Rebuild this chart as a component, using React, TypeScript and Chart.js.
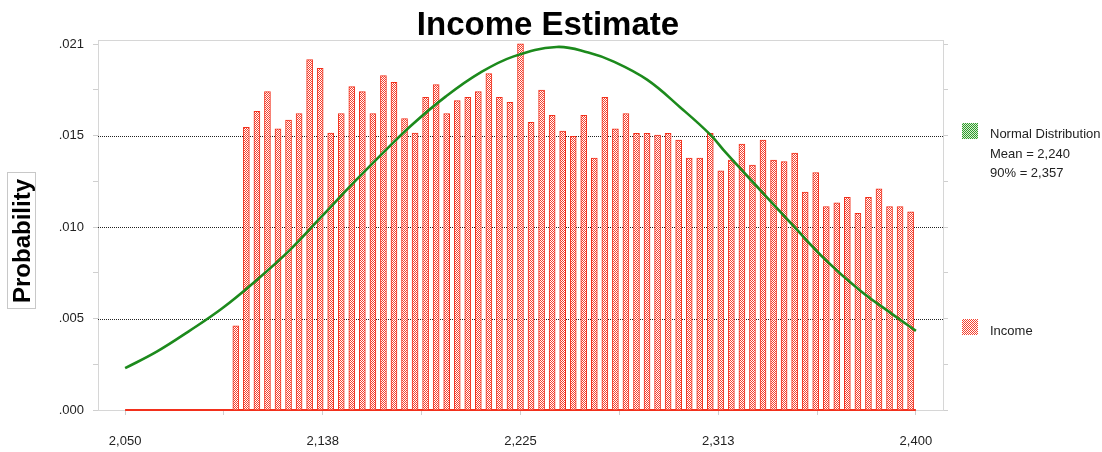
import React, { useEffect, useRef } from 'react';
import { Chart, registerables } from 'chart.js';

Chart.register(...registerables);

// ---- data ----
const titleText = 'Income Estimate';
const yAxisTitle = 'Probability';
const curveName = 'Normal Distribution';
const barName = 'Income';
const meanValue = 2240;
const p90Value = 2357;

const binStart = 2050;
const binEnd = 2400;
const binCount = 75;

// probability per bin (first 10 bins are empty)
const incomeValues = [
  0, 0, 0, 0, 0, 0, 0, 0, 0, 0,
  0.00473, 0.01589, 0.01679, 0.0179, 0.0158, 0.0163, 0.01667, 0.0197, 0.01921, 0.01557,
  0.01667, 0.01818, 0.0179, 0.01667, 0.0188, 0.01842, 0.01638, 0.01557, 0.01758, 0.01829,
  0.01667, 0.01739, 0.01758, 0.0179, 0.01891, 0.01758, 0.01729, 0.02058, 0.01617, 0.01799,
  0.01656, 0.01568, 0.01538, 0.01656, 0.01416, 0.01758, 0.0158, 0.01667, 0.01555, 0.01555,
  0.01546, 0.01555, 0.01518, 0.01416, 0.01416, 0.01555, 0.01345, 0.01405, 0.01495, 0.01377,
  0.01518, 0.01405, 0.01396, 0.01445, 0.01225, 0.01335, 0.01144, 0.01165, 0.01195, 0.01105,
  0.01195, 0.01244, 0.01144, 0.01144, 0.01114,
];

const curveX = [
  2050, 2064, 2078, 2093, 2108, 2123, 2137, 2152, 2167, 2177, 2192, 2207, 2222,
  2241, 2255, 2266, 2281, 2296, 2309, 2316, 2331, 2346, 2360, 2375, 2390, 2400,
];
const curveY = [
  0.00235, 0.00328, 0.00441, 0.00572, 0.00728, 0.009, 0.01088, 0.01289, 0.01482, 0.01604,
  0.01763, 0.01895, 0.01988, 0.02041, 0.0201, 0.0196, 0.01857, 0.01698, 0.01548, 0.01445,
  0.01238, 0.01032, 0.00844, 0.00675, 0.00535, 0.00445,
];

const xTickValues = [2050, 2093.75, 2137.5, 2181.25, 2225, 2268.75, 2312.5, 2356.25, 2400];
const yTickValues = [0, 0.00257, 0.00514, 0.00771, 0.01028, 0.01285, 0.01542, 0.01799, 0.02056];
const yGridValues = [0.00514, 0.01028, 0.01542];
const xMin = 2038;
const xMax = 2412;
const yMax = 0.0208;

// ---- helpers ----
const FONT = "'Liberation Sans', Arial, sans-serif";
const binWidth = (binEnd - binStart) / binCount;
const barData = incomeValues.map((v, i) => ({ x: binStart + (i + 0.5) * binWidth, y: v }));
const baseData = incomeValues.map((_, i) => ({ x: binStart + i * binWidth, y: 0 })).concat([{ x: binEnd, y: 0 }]);
const curveData = curveX.map((x, i) => ({ x, y: curveY[i] }));

function makePattern(a: string, b: string): CanvasPattern | string {
  const c = document.createElement('canvas');
  c.width = 2;
  c.height = 2;
  const g = c.getContext('2d');
  if (!g) return a;
  g.fillStyle = b;
  g.fillRect(0, 0, 2, 2);
  g.fillStyle = a;
  g.fillRect(0, 0, 1, 1);
  g.fillRect(1, 1, 1, 1);
  const p = g.createPattern(c, 'repeat');
  return p || a;
}

function fmtProb(v: number) {
  return v.toFixed(3).replace(/^0/, '');
}
function fmtNum(v: number) {
  return Math.round(v).toLocaleString('en-US');
}

export default function App() {
  const ref = useRef<HTMLCanvasElement>(null);

  useEffect(() => {
    document.body.style.margin = '0';
    const canvas = ref.current;
    if (!canvas) return;
    const redPattern = makePattern('#f6412f', '#ffffff');
    const greenPattern = makePattern('#2f9a2f', '#d8f0d0');

    const decor = {
      id: 'decor',
      beforeDatasetsDraw(chart: any) {
        const { ctx, chartArea } = chart;
        const ys = chart.scales.y;
        ctx.save();
        ctx.strokeStyle = '#222';
        ctx.lineWidth = 1;
        ctx.setLineDash([1, 1]);
        yGridValues.forEach((v) => {
          const y = Math.round(ys.getPixelForValue(v)) + 0.5;
          ctx.beginPath();
          ctx.moveTo(chartArea.left, y);
          ctx.lineTo(chartArea.right, y);
          ctx.stroke();
        });
        ctx.setLineDash([]);
        ctx.strokeStyle = '#d6d6d6';
        ctx.beginPath();
        ctx.moveTo(chartArea.left, Math.round(chartArea.top) + 0.5);
        ctx.lineTo(chartArea.right, Math.round(chartArea.top) + 0.5);
        ctx.stroke();
        ctx.restore();
      },
      afterDraw(chart: any) {
        const { ctx, chartArea } = chart;
        ctx.save();
        // title
        ctx.fillStyle = '#000';
        ctx.font = `bold 33px ${FONT}`;
        ctx.textAlign = 'center';
        ctx.textBaseline = 'alphabetic';
        ctx.fillText(titleText, 548, 35);

        // y axis title with box
        ctx.strokeStyle = '#c8c8c8';
        ctx.lineWidth = 1;
        ctx.strokeRect(7.5, 172.5, 28, 136);
        ctx.save();
        ctx.translate(29.5, 241);
        ctx.rotate(-Math.PI / 2);
        ctx.font = `bold 24px ${FONT}`;
        ctx.textAlign = 'center';
        ctx.textBaseline = 'alphabetic';
        ctx.fillStyle = '#000';
        ctx.fillText(yAxisTitle, 0, 0);
        ctx.restore();

        // legend
        const lx = chartArea.right + 19;
        ctx.fillStyle = greenPattern;
        ctx.fillRect(lx, 123, 16, 16);
        ctx.fillStyle = redPattern;
        ctx.fillRect(lx, 319, 16, 16);
        ctx.fillStyle = '#222';
        ctx.font = `13px ${FONT}`;
        ctx.textAlign = 'left';
        ctx.fillText(curveName, lx + 28, 138);
        ctx.fillText(`Mean = ${fmtNum(meanValue)}`, lx + 28, 158);
        ctx.fillText(`90% = ${fmtNum(p90Value)}`, lx + 28, 177);
        ctx.fillText(barName, lx + 28, 335);
        ctx.restore();
      },
    };

    const chart = new Chart(canvas, {
      type: 'bar',
      data: {
        datasets: [
          {
            type: 'line',
            label: curveName,
            data: curveData,
            borderColor: '#1c8a1c',
            borderWidth: 2.6,
            pointRadius: 0,
            tension: 0.4,
            order: 0,
          } as any,
          {
            type: 'bar',
            label: barName,
            data: barData,
            backgroundColor: redPattern,
            borderColor: '#f2301c',
            borderWidth: 1,
            barThickness: 6,
            order: 1,
          } as any,
          {
            type: 'line',
            label: 'base',
            data: baseData,
            borderColor: '#f2301c',
            borderWidth: 2,
            pointRadius: 0,
            clip: false,
            order: 2,
          } as any,
        ],
      },
      options: {
        animation: false,
        responsive: false,
        devicePixelRatio: 1,
        layout: { padding: { left: 0, right: 154, top: 40, bottom: 0 } },
        plugins: {
          legend: { display: false },
          tooltip: { enabled: false },
          title: { display: false },
        },
        scales: {
          x: {
            type: 'linear',
            min: xMin,
            max: xMax,
            offset: false,
            afterBuildTicks: (s: any) => {
              s.ticks = xTickValues.map((v) => ({ value: v }));
            },
            afterFit: (s: any) => {
              s.height = 42;
            },
            ticks: {
              autoSkip: false,
              maxRotation: 0,
              padding: 19,
              color: '#222',
              font: { family: FONT, size: 13 },
              callback: (v: any, i: number) => (i % 2 === 0 ? fmtNum(Number(v)) : ''),
            },
            grid: { drawOnChartArea: false, tickLength: 5, color: '#cfcfcf', tickColor: '#cfcfcf', offset: false },
            border: { display: true, color: '#d6d6d6', width: 1 },
          },
          y: {
            type: 'linear',
            min: 0,
            max: yMax,
            afterBuildTicks: (s: any) => {
              s.ticks = yTickValues.map((v) => ({ value: v }));
            },
            afterFit: (s: any) => {
              s.width = 98;
            },
            ticks: {
              autoSkip: false,
              padding: 9,
              color: '#222',
              font: { family: FONT, size: 13 },
              callback: (v: any, i: number) => (i % 2 === 0 ? fmtProb(Number(v)) : ''),
            },
            grid: { drawOnChartArea: false, tickLength: 5, color: '#cfcfcf', tickColor: '#cfcfcf' },
            border: { display: true, color: '#d6d6d6', width: 1 },
          },
          y2: {
            type: 'linear',
            position: 'right',
            min: 0,
            max: yMax,
            afterBuildTicks: (s: any) => {
              s.ticks = yTickValues.map((v) => ({ value: v }));
            },
            afterFit: (s: any) => {
              s.width = 5;
            },
            ticks: { display: false },
            grid: { drawOnChartArea: false, tickLength: 5, color: '#cfcfcf', tickColor: '#cfcfcf' },
            border: { display: true, color: '#d6d6d6', width: 1 },
          },
        },
      } as any,
      plugins: [decor],
    });
    return () => chart.destroy();
  }, []);

  return (
    <div style={{ width: 1102, height: 452, position: 'relative' }}>
      <canvas ref={ref} width={1102} height={452} style={{ display: 'block', width: 1102, height: 452 }} />
    </div>
  );
}
